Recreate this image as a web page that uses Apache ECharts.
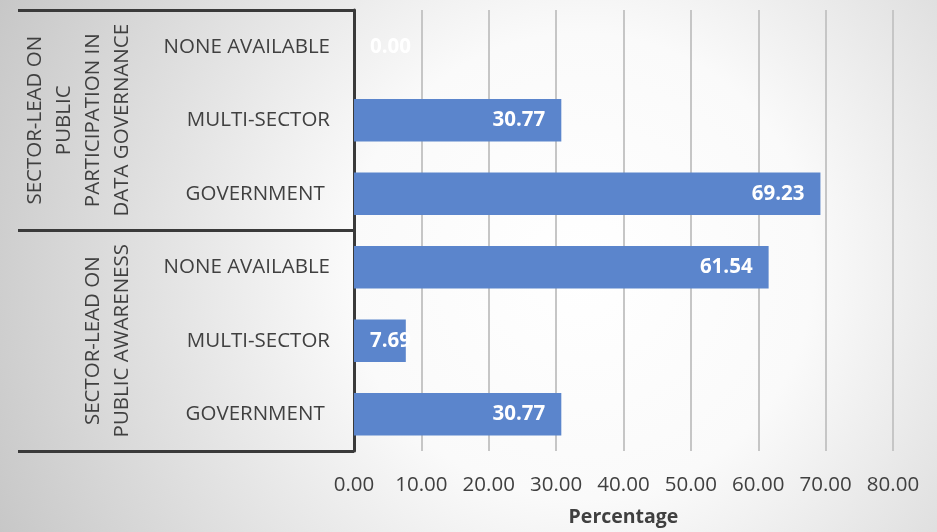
<!DOCTYPE html>
<html>
<head>
<meta charset="utf-8">
<title>Sector-lead chart</title>
<script src="https://cdn.jsdelivr.net/npm/echarts@6/dist/echarts.min.js"></script>
<style>
  html, body { margin: 0; padding: 0; }
  #chart { width: 937px; height: 532px; }
</style>
</head>
<body>
<div id="chart"></div>
<script>
// categories, top to bottom
const subCategories = ["NONE AVAILABLE", "MULTI-SECTOR", "GOVERNMENT ", "NONE AVAILABLE", "MULTI-SECTOR", "GOVERNMENT "];
const groupNames = [
  "SECTOR-LEAD ON\nPUBLIC\nPARTICIPATION IN\nDATA GOVERNANCE",
  "SECTOR-LEAD ON\nPUBLIC AWARENESS"
];
const percentValues = [0.00, 30.77, 69.23, 61.54, 7.69, 30.77];
const xTicks = [0, 10, 20, 30, 40, 50, 60, 70, 80];

const FONT = "'Open Sans', sans-serif";
const TEXT = "#404040";

const chart = echarts.init(document.getElementById("chart"));

const option = {
  backgroundColor: {
    type: "radial",
    x: 0.62, y: 0.5, r: 1.25,
    colorStops: [
      { offset: 0, color: "#ffffff" },
      { offset: 0.35, color: "#fafafa" },
      { offset: 1, color: "#c4c4c4" }
    ]
  },
  animation: false,
  grid: { left: 354, right: 44, top: 10, bottom: 80 },
  xAxis: {
    type: "value",
    min: xTicks[0],
    max: xTicks[xTicks.length - 1],
    interval: xTicks[1] - xTicks[0],
    axisLine: { show: false },
    axisTick: { show: false },
    splitLine: { lineStyle: { color: "#c6c6c6", width: 2 } },
    axisLabel: {
      margin: 24,
      color: TEXT,
      fontFamily: FONT,
      fontSize: 20.5,
      formatter: v => v.toFixed(2)
    },
    name: "Percentage",
    nameLocation: "middle",
    nameGap: 56,
    nameTextStyle: { color: TEXT, fontFamily: FONT, fontSize: 19.5, fontWeight: "bold" }
  },
  yAxis: [
    {
      type: "category",
      inverse: true,
      data: subCategories,
      axisLine: { lineStyle: { color: "#3a3a3a", width: 3 } },
      axisTick: { show: false },
      axisLabel: { interval: 0, margin: 24, color: TEXT, fontFamily: FONT, fontSize: 20.5 }
    },
    {
      // outer level: group names + separator lines
      type: "category",
      inverse: true,
      position: "left",
      data: groupNames,
      axisLine: { show: false },
      axisTick: { show: true, interval: 0, length: 336, lineStyle: { color: "#3a3a3a", width: 3 } },
      axisLabel: {
        interval: 0,
        hideOverlap: false,
        rotate: 90,
        margin: 217,
        color: TEXT,
        fontFamily: FONT,
        fontSize: 20.5,
        lineHeight: 29
      }
    }
  ],
  series: [
    {
      type: "bar",
      yAxisIndex: 0,
      barWidth: "58%",
      itemStyle: { color: "#5b85cc" },
      label: {
        show: true,
        position: "insideRight",
        distance: 16,
        color: "#ffffff",
        fontFamily: FONT,
        fontSize: 20.5,
        fontWeight: "bold",
        formatter: p => p.value.toFixed(2)
      },
      data: percentValues.map(v => v < 10
        ? { value: v, label: { position: "insideLeft", distance: 16 } }
        : v)
    }
  ]
};

chart.setOption(option);
window.addEventListener("resize", () => chart.resize());
</script>
</body>
</html>
